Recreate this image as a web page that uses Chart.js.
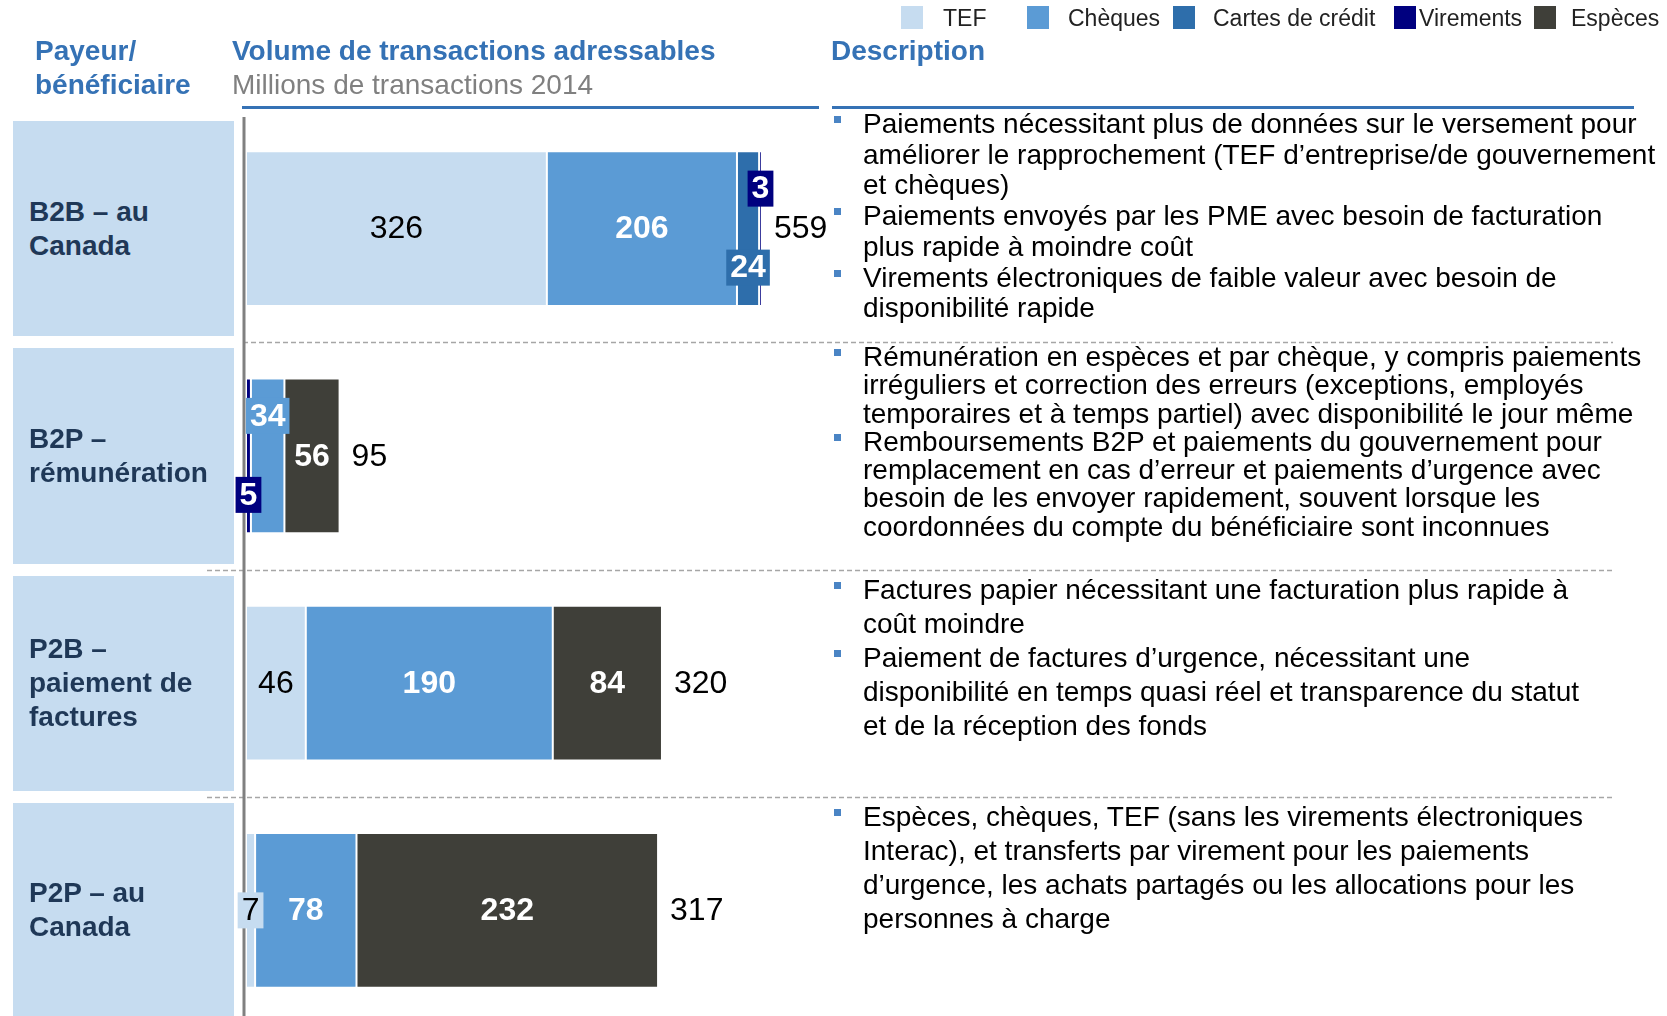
<!DOCTYPE html>
<html lang="fr">
<head>
<meta charset="utf-8">
<script src="https://cdn.jsdelivr.net/npm/chart.js@4.4.1/dist/chart.umd.min.js"></script>
<style>
  html, body { margin: 0; padding: 0; background: #fff; overflow: hidden; width: 1667px; height: 1016px; }
  body { position: relative; font-family: "Liberation Sans", Arial, sans-serif; color: #000; }
  #chart { position: absolute; left: 0; top: 0; }
  .abs { position: absolute; white-space: nowrap; }
  .hdr { font-size: 28px; font-weight: bold; line-height: 34px; color: #3572b5; }
  .sub { font-weight: normal; color: #808080; }
  .rule { position: absolute; height: 3px; background: #3572b5; }
  .lg-box { position: absolute; top: 6px; width: 22px; height: 23px; }
  .lg-txt { position: absolute; top: 5px; font-size: 23px; line-height: 26px; color: #222; white-space: nowrap; }
  .cat { position: absolute; left: 13px; width: 205px; padding-left: 16px; background: #c6dcf0;
         display: flex; align-items: center; font-size: 28px; font-weight: bold; line-height: 34px; color: #1f3857; }
  .desc { position: absolute; left: 863px; font-size: 28px; white-space: nowrap; }
  .desc .item { position: relative; }
  .desc .item::before { content: ""; position: absolute; left: -29px; width: 7px; height: 7px; background: #4a84c4; }
</style>
</head>
<body>
<canvas id="chart" width="1667" height="1030"></canvas>

<script>
// ── data ─────────────────────────────────────
const categories = ['B2B – au Canada', 'B2P – rémunération', 'P2B – paiement de factures', 'P2P – au Canada'];
const seriesNames = ['TEF', 'Chèques', 'Cartes de crédit', 'Virements', 'Espèces'];
const tef       = [326, 0, 46, 7];
const cheques   = [206, 34, 190, 78];
const cartes    = [24, 0, 0, 0];
const virements = [3, 5, 0, 0];
const especes   = [0, 56, 84, 232];
const seriesValues = [tef, cheques, cartes, virements, especes];

const descriptions = [
  [['Paiements nécessitant plus de données sur le versement pour', 'améliorer le rapprochement (TEF d’entreprise/de gouvernement', 'et chèques)'],
   ['Paiements envoyés par les PME avec besoin de facturation', 'plus rapide à moindre coût'],
   ['Virements électroniques de faible valeur avec besoin de', 'disponibilité rapide']],
  [['Rémunération en espèces et par chèque, y compris paiements', 'irréguliers et correction des erreurs (exceptions, employés', 'temporaires et à temps partiel) avec disponibilité le jour même'],
   ['Remboursements B2P et paiements du gouvernement pour', 'remplacement en cas d’erreur et paiements d’urgence avec', 'besoin de les envoyer rapidement, souvent lorsque les', 'coordonnées du compte du bénéficiaire sont inconnues']],
  [['Factures papier nécessitant une facturation plus rapide à', 'coût moindre'],
   ['Paiement de factures d’urgence, nécessitant une', 'disponibilité en temps quasi réel et transparence du statut', 'et de la réception des fonds']],
  [['Espèces, chèques, TEF (sans les virements électroniques', 'Interac), et transferts par virement pour les paiements', 'd’urgence, les achats partagés ou les allocations pour les', 'personnes à charge']],
];

// ── styling / layout ─────────────────────────
const seriesColors = ['#c6dcf0', '#5b9bd5', '#2e6eab', '#00007f', '#3f3f39'];
// the original does not draw rows to a common scale, so each row gets its own axis
const rowAxisMax = [1517, 1421, 1077, 1077];
// stacking order per row (B2P puts Virements first)
const stackOrder = [[0, 1, 2, 3, 4], [3, 0, 1, 2, 4], [0, 1, 2, 3, 4], [0, 1, 2, 3, 4]];
// small segments get a boxed label, shifted up/down from the bar centre (px)
const boxedLabels = { '0:Virements': -40, '0:Cartes de crédit': 39, '1:Chèques': -40, '1:Virements': 39, '3:TEF': 0 };
const legendBoxX = [901, 1027, 1173, 1394, 1534];
const legendTextX = [943, 1068, 1213, 1419, 1571];
const descTop = [109, 343, 573, 800];
const descLine = [30.7, 28.3, 34, 34];

const FONT = '"Liberation Sans", Arial, sans-serif';

// ── static page parts ────────────────────────
function el(html, cls, style) {
  const d = document.createElement('div');
  if (cls) d.className = cls;
  d.innerHTML = html;
  Object.assign(d.style, style || {});
  document.body.appendChild(d);
  return d;
}

seriesNames.forEach((name, i) => {
  el('', 'lg-box', { left: legendBoxX[i] + 'px', background: seriesColors[i] });
  el(name, 'lg-txt', { left: legendTextX[i] + 'px' });
});

el('Payeur/<br>bénéficiaire', 'abs hdr', { left: '35px', top: '34px' });
el('Volume de transactions adressables<br><span class="sub">Millions de transactions 2014</span>', 'abs hdr', { left: '232px', top: '34px' });
el('Description', 'abs hdr', { left: '831px', top: '34px' });
el('', 'rule', { left: '242px', top: '106px', width: '577px' });
el('', 'rule', { left: '832px', top: '106px', width: '802px' });

// description blocks; bullet sits near the top of each item's first line
descriptions.forEach((items, b) => {
  const lh = descLine[b];
  const html = items.map(lines =>
    `<div class="item" style="line-height:${lh}px">${lines.join('<br>')}</div>`).join('');
  el(html, 'desc b' + b, { top: descTop[b] + 'px' });
  const st = document.createElement('style');
  st.textContent = `.desc.b${b} .item::before{ top:${lh / 2 - 8}px; }`;
  document.head.appendChild(st);
});

// ── chart ────────────────────────────────────
const datasets = [];
categories.forEach((cat, row) => {
  stackOrder[row].forEach(s => {
    datasets.push({
      label: seriesNames[s],
      data: categories.map((_, j) => (j === row ? seriesValues[s][row] : null)),
      backgroundColor: seriesColors[s],
      borderColor: 'rgba(255,255,255,0.85)',
      borderWidth: 1,
      borderSkipped: false,
      xAxisID: 'x' + row,
      categoryPercentage: 1,
      barPercentage: 0.682,
      row: row,
      series: s,
    });
  });
});

const scales = { y: { type: 'category', display: false, stacked: true } };
categories.forEach((_, row) => {
  scales['x' + row] = { type: 'linear', axis: 'x', display: false, stacked: true, min: 0, max: rowAxisMax[row] };
});

const rowDecor = {
  id: 'rowDecor',
  beforeDatasetsDraw(chart) {
    const { ctx, chartArea } = chart;
    const y = chart.scales.y;
    const band = y.getPixelForValue(1) - y.getPixelForValue(0);
    ctx.save();
    ctx.strokeStyle = '#a6a6a6';
    ctx.lineWidth = 1.5;
    ctx.setLineDash([5, 3]);
    for (let i = 1; i < categories.length; i++) {
      const yy = Math.round(y.getPixelForValue(i) - band / 2) + 0.5;
      ctx.beginPath();
      ctx.moveTo(i === 1 ? 243 : 207, yy);
      ctx.lineTo(1613, yy);
      ctx.stroke();
    }
    ctx.setLineDash([]);
    ctx.strokeStyle = '#808080';
    ctx.lineWidth = 3;
    ctx.beginPath();
    ctx.moveTo(chartArea.left - 2, 117);
    ctx.lineTo(chartArea.left - 2, chart.height);
    ctx.stroke();
    ctx.restore();
  },
};

const valueLabels = {
  id: 'valueLabels',
  afterDatasetsDraw(chart) {
    const { ctx } = chart;
    const rowEnd = categories.map(() => 0);
    const rowTotal = categories.map(() => 0);
    const rowY = categories.map(() => 0);
    ctx.save();
    ctx.textBaseline = 'middle';
    ctx.textAlign = 'center';
    chart.data.datasets.forEach((ds, di) => {
      const row = ds.row, s = ds.series;
      const v = ds.data[row];
      const bar = chart.getDatasetMeta(di).data[row];
      if (!v || !bar) return;
      rowEnd[row] = Math.max(rowEnd[row], bar.x);
      rowTotal[row] += v;
      rowY[row] = bar.y;
      const cx = (bar.x + bar.base) / 2;
      const onLight = s === 0;
      const txtColor = onLight ? '#000' : '#fff';
      ctx.font = (onLight ? '' : 'bold ') + '32px ' + FONT;
      const shift = boxedLabels[row + ':' + seriesNames[s]];
      if (shift !== undefined) {
        const w = ctx.measureText(String(v)).width + 8;
        const h = 36;
        ctx.fillStyle = seriesColors[s];
        ctx.fillRect(cx - w / 2, bar.y + shift - h / 2, w, h);
        ctx.fillStyle = txtColor;
        ctx.fillText(String(v), cx, bar.y + shift + 1);
      } else {
        ctx.fillStyle = txtColor;
        ctx.fillText(String(v), cx, bar.y + 1);
      }
    });
    // totals to the right of each bar
    ctx.textAlign = 'left';
    ctx.font = '32px ' + FONT;
    ctx.fillStyle = '#000';
    categories.forEach((_, row) => {
      ctx.fillText(String(rowTotal[row]), rowEnd[row] + 12, rowY[row] + 1);
    });
    ctx.restore();
  },
};

const chart = new Chart(document.getElementById('chart'), {
  type: 'bar',
  data: { labels: categories, datasets },
  options: {
    indexAxis: 'y',
    responsive: false,
    animation: false,
    devicePixelRatio: 1,
    layout: { padding: { left: 246, right: 21, top: 115, bottom: 6 } },
    scales,
    plugins: { legend: { display: false }, tooltip: { enabled: false } },
  },
  plugins: [rowDecor, valueLabels],
});

// category boxes follow the chart's own category bands
const yScale = chart.scales.y;
const band = yScale.getPixelForValue(1) - yScale.getPixelForValue(0);
categories.forEach((cat, i) => {
  const c = yScale.getPixelForValue(i);
  el(cat, 'cat', { top: (c - band / 2 + 6) + 'px', height: (band - 12) + 'px' });
});
</script>
</body>
</html>
